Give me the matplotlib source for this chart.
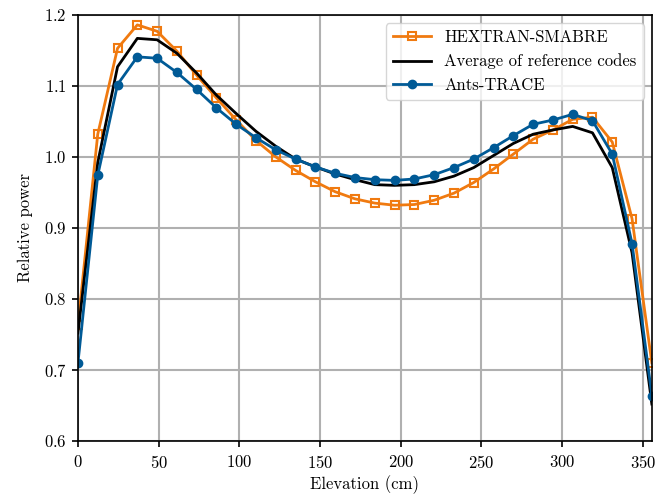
import numpy as np
import matplotlib
matplotlib.use('Agg')
import matplotlib.pyplot as plt

plt.rcParams['font.family'] = 'cmr10'
plt.rcParams['mathtext.fontset'] = 'cm'
plt.rcParams['axes.formatter.use_mathtext'] = True

# elevation nodes (cm)
x_max = 355.6
elev = np.linspace(0, x_max, 30)

hextran = [0.763, 1.032, 1.153, 1.186, 1.177, 1.149, 1.115, 1.083, 1.052, 1.023,
           1.000, 0.981, 0.965, 0.951, 0.941, 0.935, 0.932, 0.933, 0.939, 0.949,
           0.964, 0.983, 1.004, 1.025, 1.038, 1.053, 1.056, 1.021, 0.913, 0.710]
average = [0.752, 0.992, 1.127, 1.167, 1.165, 1.146, 1.118, 1.087, 1.061, 1.036,
           1.015, 0.997, 0.986, 0.976, 0.968, 0.961, 0.960, 0.961, 0.965, 0.973,
           0.985, 1.002, 1.019, 1.032, 1.038, 1.043, 1.034, 0.985, 0.865, 0.652]
ants = [0.710, 0.974, 1.102, 1.141, 1.139, 1.119, 1.095, 1.069, 1.046, 1.027,
        1.010, 0.997, 0.986, 0.977, 0.971, 0.968, 0.967, 0.969, 0.975, 0.985,
        0.997, 1.013, 1.030, 1.046, 1.052, 1.060, 1.051, 1.004, 0.878, 0.664]

fig = plt.figure(figsize=(6.72, 4.98), dpi=100)
ax = fig.add_axes([0.116, 0.1145, 0.854, 0.8555])

ax.plot(elev, hextran, '-s', color='#f07a10', lw=2, ms=6, mfc='none', mew=1.5,
        label='HEXTRAN-SMABRE')
ax.plot(elev, average, '-', color='black', lw=2, label='Average of reference codes')
ax.plot(elev, ants, '-o', color='#005a96', lw=2, ms=6, label='Ants-TRACE')

ax.set_xlim(0, x_max)
ax.set_ylim(0.6, 1.2)
ax.set_xticks(np.arange(0, 351, 50))
ax.set_yticks(np.arange(0.6, 1.21, 0.1))
ax.grid(True, color='#b0b0b0', lw=1.5)
ax.tick_params(labelsize=12, width=1.2, length=4.5)
ax.tick_params(axis='x', pad=5)
for s in ax.spines.values():
    s.set_linewidth(1.2)
ax.set_xlabel('Elevation (cm)', fontsize=12, labelpad=3)
ax.set_ylabel('Relative power', fontsize=12, labelpad=8)
ax.legend(loc='upper right', fontsize=12, handlelength=2.3)

fig.savefig('out.png', dpi=100)
